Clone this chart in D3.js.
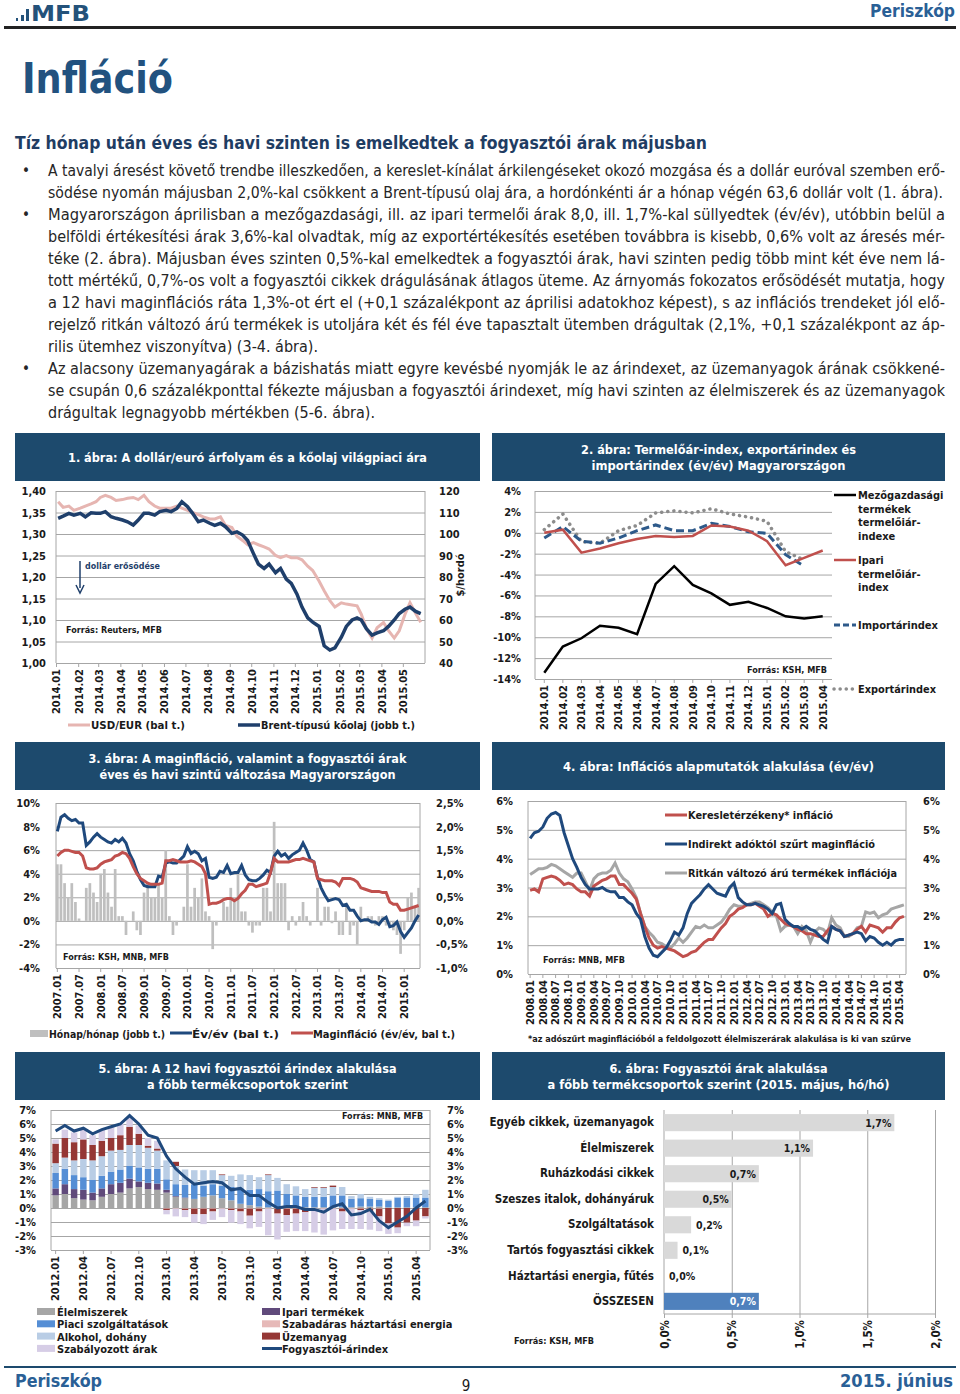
<!DOCTYPE html>
<html>
<head>
<meta charset="utf-8">
<script src="https://cdn.jsdelivr.net/npm/d3@7/dist/d3.min.js"></script>
<style>
  body { margin: 0; background: #fff; }
  svg text { font-family: "DejaVu Sans Condensed", "DejaVu Sans", sans-serif; font-stretch: condensed; }
</style>
</head>
<body>
<script>
(function () {
	"use strict";

	// ---- text ----
	var bodyParagraphs = [
		["A tavalyi áresést követő trendbe illeszkedően, a kereslet-kínálat árkilengéseket okozó mozgása és a dollár euróval szemben erő-",
		 "södése nyomán májusban 2,0%-kal csökkent a Brent-típusú olaj ára, a hordónkénti ár a hónap végén 63,6 dollár volt (1. ábra)."],
		["Magyarországon áprilisban a mezőgazdasági, ill. az ipari termelői árak 8,0, ill. 1,7%-kal süllyedtek (év/év), utóbbin belül a",
		 "belföldi értékesítési árak 3,6%-kal olvadtak, míg az exportértékesítés esetében továbbra is kisebb, 0,6% volt az áresés mér-",
		 "téke (2. ábra). Májusban éves szinten 0,5%-kal emelkedtek a fogyasztói árak, havi szinten pedig több mint két éve nem lá-",
		 "tott mértékű, 0,7%-os volt a fogyasztói cikkek drágulásának átlagos üteme. Az árnyomás fokozatos erősödését mutatja, hogy",
		 "a 12 havi maginflációs ráta 1,3%-ot ért el (+0,1 százalékpont az áprilisi adatokhoz képest), s az inflációs trendeket jól elő-",
		 "rejelző ritkán változó árú termékek is utoljára két és fél éve tapasztalt ütemben drágultak (2,1%, +0,1 százalékpont az áp-",
		 "rilis ütemhez viszonyítva) (3-4. ábra)."],
		["Az alacsony üzemanyagárak a bázishatás miatt egyre kevésbé nyomják le az árindexet, az üzemanyagok árának csökkené-",
		 "se csupán 0,6 százalékponttal fékezte májusban a fogyasztói árindexet, míg havi szinten az élelmiszerek és az üzemanyagok",
		 "drágultak legnagyobb mértékben (5-6. ábra)."]
	];

	// ---- 1. ábra: weekly values, 4 per month ----
	var c1Months = ["2014.01","2014.02","2014.03","2014.04","2014.05","2014.06","2014.07","2014.08","2014.09",
		"2014.10","2014.11","2014.12","2015.01","2015.02","2015.03","2015.04","2015.05"];
	var c1UsdEur = [1.375,1.362,1.365,1.355, 1.36,1.365,1.37,1.375, 1.385,1.39,1.385,1.378, 1.38,1.383,1.385,1.38,
		1.39,1.375,1.365,1.36, 1.36,1.36,1.365,1.36, 1.355,1.35,1.345,1.34, 1.335,1.335,1.34,1.32,
		1.315,1.295,1.285,1.275, 1.28,1.275,1.27,1.265, 1.25,1.245,1.25,1.245, 1.245,1.24,1.225,1.215,
		1.19,1.168,1.145,1.13, 1.14,1.137,1.135,1.133, 1.113,1.08,1.058,1.082, 1.094,1.075,1.058,1.075,
		1.113,1.14,1.115,1.095];
	var c1Brent = [107.3,108.3,109.6,108.8, 109.6,108,109.9,109.6, 109.6,110.4,108,107.3, 106.5,105.7,104.2,106.5,
		109.6,109.6,108.8,110.4, 111,110.4,111.9,115, 112.7,109.6,105.7,106.5, 105,104,105,103.4,
		100.3,101,99.5,97, 91,86,84,86, 82,84,79,77, 72,66,61,59,
		57,48,46,47, 52,57,60,61, 60,56,53,54, 55,57,60,63,
		65,66,64,63];
	var c1LeftTicks = [1.00,1.05,1.10,1.15,1.20,1.25,1.30,1.35,1.40];
	var c1RightTicks = [40,50,60,70,80,90,100,110,120];

	// ---- 2. ábra ----
	var c2Months = ["2014.01","2014.02","2014.03","2014.04","2014.05","2014.06","2014.07","2014.08",
		"2014.09","2014.10","2014.11","2014.12","2015.01","2015.02","2015.03","2015.04"];
	var c2Agri = [-13.4,-10.9,-10.1,-8.9,-9.1,-9.7,-4.9,-3.2,-5.0,-5.8,-6.9,-6.6,-7.2,-8.0,-8.2,-8.0];
	var c2Ind = [0.0,0.3,-1.9,-1.5,-1.0,-0.6,-0.3,-0.4,-0.3,0.7,0.6,0.2,-0.8,-3.1,-2.4,-1.7];
	var c2Imp = [-0.5,0.6,-0.8,-1.0,-0.5,0.2,0.75,0.2,0.2,0.9,0.6,0.1,-0.05,-2.1,-3.2,null];
	var c2Exp = [0.3,1.8,-0.85,-1.0,0.2,0.7,1.9,2.1,1.9,2.3,1.8,1.5,1.1,-1.8,-2.6,null];
	var c2Ticks = [-14,-12,-10,-8,-6,-4,-2,0,2,4];

	// ---- 3. ábra: 2007.01 - 2015.05 ----
	var c3YoY = [7.6,8.8,9.0,8.7,8.5,8.6,8.3,8.3,6.4,6.7,7.1,7.4,
		7.1,6.9,6.7,6.6,6.9,6.7,7.0,6.6,5.7,5.1,4.2,3.5,
		3.0,2.9,2.9,2.9,3.8,3.7,4.9,5.0,4.9,4.9,5.2,5.5,
		6.3,5.7,5.9,5.7,5.1,5.3,3.7,3.6,3.7,4.2,4.1,4.7,
		4.0,4.1,4.1,4.7,3.9,3.5,3.4,3.4,3.6,3.9,4.3,4.1,
		5.5,5.9,5.5,5.7,5.3,5.6,5.8,6.0,6.6,6.0,5.2,5.0,
		3.7,2.8,2.2,1.7,1.8,1.9,1.8,1.3,1.4,0.9,0.9,0.4,
		0.0,0.1,0.1,-0.1,-0.1,-0.3,0.1,0.3,-0.5,-0.4,-0.1,-0.9,
		-1.4,-1.0,-0.6,0.0,0.5];
	var c3Core = [5.5,5.8,6.0,6.0,5.9,5.8,5.8,5.5,4.5,4.4,4.4,4.5,
		4.8,5.0,5.1,5.2,5.5,5.6,5.8,5.7,5.3,4.6,4.0,3.6,
		3.4,3.2,3.1,3.1,3.1,3.2,5.1,5.1,5.2,5.1,5.0,5.0,
		5.0,5.1,5.0,4.8,4.6,4.0,1.4,1.5,1.5,1.6,1.8,1.9,
		1.9,1.7,1.9,2.3,2.6,3.1,3.1,2.9,3.0,3.1,3.2,4.1,
		5.3,5.0,5.0,5.0,5.0,5.1,5.2,5.2,5.3,5.2,5.1,5.0,
		3.6,3.5,3.4,3.4,3.4,3.3,3.0,3.6,3.6,3.6,3.5,3.3,
		2.8,2.7,2.6,2.5,2.5,2.5,2.4,2.4,1.6,1.4,1.4,0.9,
		0.9,1.0,1.1,1.2,1.3];
	var c3MoM = [1.2,1.2,0.8,0.5,0.8,0.4,0.05,0.0,0.7,0.8,0.6,0.4,
		1.0,1.1,0.6,0.3,1.1,0.1,0.1,-0.3,0.0,0.2,-0.2,-0.3,
		0.6,0.8,0.5,0.5,0.8,0.5,1.5,0.1,-0.3,-0.1,0.0,0.3,
		1.2,0.3,0.7,0.5,0.9,0.2,0.1,-0.6,-0.1,0.0,0.4,0.3,
		0.7,0.5,1.0,0.2,0.2,-0.1,-0.25,-0.1,-0.1,0.7,0.7,0.2,
		2.1,0.8,0.8,0.8,-0.2,0.1,-0.1,0.1,0.4,0.1,-0.1,0.0,
		0.7,-0.1,0.3,0.3,-0.05,0.2,-0.3,-0.3,0.35,-0.3,-0.1,-0.5,
		0.3,0.0,0.1,0.1,-0.1,0.1,0.1,-0.1,-0.1,-0.2,-0.3,-0.7,
		-0.2,0.5,0.6,0.3,0.7];
	var c3LeftTicks = [-4,-2,0,2,4,6,8,10];
	var c3RightTicks = [-1,-0.5,0,0.5,1,1.5,2,2.5];

	// ---- 4. ábra: 2008.01 - 2015.05 ----
	var c4Demand = [2.9,2.95,2.85,3.3,3.35,3.4,3.35,3.25,3.1,3.15,3.1,2.95,
		2.85,2.85,2.7,3.05,3.15,3.25,3.3,3.4,3.4,3.1,3.1,2.95,
		2.8,2.6,2.1,1.65,1.25,1.0,0.9,0.95,0.9,0.85,0.8,0.7,
		0.6,0.65,0.75,0.8,0.95,1.1,1.2,1.2,1.4,1.6,1.75,2.0,
		2.1,2.25,2.3,2.4,2.4,2.45,2.35,2.25,2.0,2.1,2.05,1.9,
		1.75,1.7,1.65,1.55,1.5,1.4,1.4,1.35,1.3,1.3,1.5,1.65,
		1.55,1.5,1.3,1.35,1.4,1.55,1.65,1.45,1.7,1.65,1.6,1.45,
		1.6,1.6,1.8,1.95,2.0];
	var c4CoreTax = [4.7,4.9,4.95,5.1,5.4,5.55,5.6,5.5,4.9,4.45,4.0,3.7,
		3.35,3.1,2.95,2.95,2.95,3.0,2.9,2.85,2.85,2.65,2.65,2.5,
		2.4,2.1,1.9,1.3,0.9,0.65,0.6,0.75,0.9,1.15,1.45,1.35,
		1.6,2.1,2.45,2.6,2.75,2.95,3.1,2.95,2.8,2.75,2.7,3.0,
		3.15,2.65,2.5,2.4,2.4,2.45,2.4,2.35,2.25,2.1,2.4,2.45,
		1.9,1.75,1.65,1.65,1.55,1.65,1.55,1.5,1.35,1.2,1.1,1.65,
		1.55,1.5,1.3,1.35,1.4,1.45,1.4,1.15,1.3,1.25,1.1,1.0,
		1.1,1.0,1.15,1.2,1.2];
	var c4Sticky = [3.45,3.55,3.65,3.65,3.7,3.8,3.75,3.65,3.55,3.45,3.35,3.5,
		3.5,3.2,2.9,3.3,3.45,3.5,3.5,3.6,3.85,3.5,3.3,3.2,
		2.95,2.65,2.1,1.65,1.45,1.3,1.1,1.05,0.95,0.9,1.05,1.25,
		1.1,1.25,1.45,1.65,1.6,1.7,1.6,1.6,1.7,1.8,2.0,2.25,
		2.4,2.35,2.35,2.4,2.45,2.5,2.5,2.4,2.3,2.15,2.0,1.5,
		1.65,1.7,1.65,1.4,1.65,1.5,1.1,1.45,1.6,1.55,1.4,1.95,
		1.7,1.6,1.3,1.3,1.4,1.6,1.65,2.15,2.1,2.15,1.95,2.05,
		2.1,2.25,2.3,2.35,2.4];
	var c4Ticks = [0,1,2,3,4,5,6];

	// ---- 5. ábra: 2012.01 - 2015.05, contributions ----
	var c5Food = [0.9,1.0,0.7,0.6,0.55,0.8,1.0,1.1,1.4,1.5,1.35,1.3,
		1.1,0.8,0.7,0.65,0.8,0.9,0.7,0.55,0.3,0.2,0.1,0.05,
		0.05,0.05,0.05,0.05,0.05,0.05,0.05,0.05,0.05,0.1,0.1,0.1,
		0.05,0.05,0.05,0.05,0.05];
	var c5Industrial = [0.5,0.7,0.65,0.7,0.55,0.6,0.7,0.7,0.7,0.4,0.45,0.45,
		0.2,0.05,0.05,0,0,0,0,0,0,0,0,0,
		0,0,0,0,0,0,0,0,0,0,0,0,
		0,0,0,0,0];
	var c5Services = [1.1,1.1,1.0,0.9,0.9,0.9,0.9,0.95,0.9,1.0,1.0,1.05,
		0.75,0.85,0.9,1.05,0.8,0.8,0.9,0.95,1.1,1.1,1.25,1.15,
		1.2,0.95,0.85,0.75,0.75,0.75,0.85,0.85,0.6,0.6,0.55,0.5,
		0.45,0.7,0.7,0.7,0.7];
	var c5Energy = [0,0,0,0,0,0,0,0,0,0,0,0,
		-0.05,-0.05,-0.05,-0.05,-0.05,-0.05,-0.05,-0.05,-0.05,-0.05,-0.05,-0.05,
		-0.05,-0.05,-0.05,-0.05,-0.05,-0.05,-0.05,-0.05,-0.05,-0.05,-0.05,-0.05,
		0,0,0,0,0];
	var c5Alcohol = [0.7,0.8,1.05,1.3,1.4,1.4,1.5,1.4,1.5,1.6,1.5,1.3,
		1.35,1.3,1.1,1.0,1.1,1.0,0.75,0.8,1.0,1.05,0.85,1.15,
		0.9,0.7,0.65,0.55,0.65,0.65,0.6,0.6,0.2,0.3,0.15,0.1,
		0.1,0.05,0.1,0.25,0.55];
	var c5Fuel = [1.4,1.4,1.3,1.4,1.1,1.1,0.9,1.05,1.3,0.8,0.15,0.15,
		-0.1,0.3,-0.1,-0.4,-0.4,-0.2,0.05,-0.1,-0.2,-0.5,-0.2,0.05,
		-0.35,-0.45,-0.35,-0.25,0.05,0.05,0.1,-0.2,0,-0.1,-0.2,-0.55,
		-1.1,-1.4,-1.05,-0.9,-0.6];
	var c5Regulated = [0.3,0.6,0.7,0.7,0.7,0.8,0.8,0.8,0.7,0.6,0.55,0.55,
		-0.3,-0.55,-0.5,-0.6,-0.7,-0.6,-0.6,-0.9,-0.9,-0.9,-1.1,-1.9,
		-1.85,-1.2,-1.25,-1.35,-1.7,-1.85,-1.55,-1.25,-1.45,-1.35,-1.3,-1.05,
		-0.75,-0.4,-0.25,-0.4,-0.15];
	var c5Cpi = [5.5,5.9,5.5,5.7,5.3,5.6,5.8,6.0,6.6,6.0,5.2,5.0,
		3.7,2.8,2.2,1.7,1.8,1.9,1.8,1.3,1.4,0.9,0.9,0.4,
		0.0,0.1,0.1,-0.1,-0.1,-0.3,0.1,0.3,-0.5,-0.4,-0.1,-0.9,
		-1.4,-1.0,-0.6,0.0,0.5];
	var c5Ticks = [-3,-2,-1,0,1,2,3,4,5,6,7];

	// ---- 6. ábra ----
	var c6Categories = ["Egyéb cikkek, üzemanyagok","Élelmiszerek","Ruházkodási cikkek","Szeszes italok, dohányáruk",
		"Szolgáltatások","Tartós fogyasztási cikkek","Háztartási energia, fűtés","ÖSSZESEN"];
	var c6Values = [1.7,1.1,0.7,0.5,0.2,0.1,0.0,0.7];
	var c6Ticks = [0,0.5,1,1.5,2];

	// ---------------------------------------------------------------
	var NAVY = '#1d4a6d', TITLE = '#22527f', GRID = '#a6a6a6', INK = '#1a1a1a';
	var RED = '#c0504d', DBLUE = '#1f497d';
	var hu = d3.formatLocale({decimal: ",", thousands: " ", grouping: [3], currency: ["", ""], minus: "-"});
	var f2 = hu.format(".2f"), f1 = hu.format(".1f");
	var pct = function (d) { return hu.format("d")(d) + '%'; };
	var pct1 = function (d) { return f1(d) + '%'; };

	var svg = d3.select('body').append('svg').attr('width', 960).attr('height', 1394);

	function label(g, x, y, s, o) {
		o = o || {};
		var t = g.append('text').attr('x', x).attr('y', y).text(s)
			.attr('font-size', o.size || 11)
			.attr('font-weight', o.weight || 'bold')
			.attr('fill', o.fill || INK)
			.attr('text-anchor', o.anchor || 'start');
		if (o.width) t.attr('textLength', o.width).attr('lengthAdjust', 'spacingAndGlyphs');
		if (o.rotate) t.attr('transform', 'rotate(' + o.rotate + ',' + x + ',' + y + ')');
		return t;
	}

	function header(x, w, y, lines, widths) {
		svg.append('rect').attr('x', x).attr('y', y).attr('width', w).attr('height', 48).attr('fill', NAVY);
		var base = lines.length === 1 ? y + 29 : y + 21;
		lines.forEach(function (l, i) {
			label(svg, x + w / 2, base + i * 16, l, {anchor: 'middle', fill: '#fff', size: 12.5, width: widths[i]});
		});
	}

	function styleAxis(a, size) {
		a.attr('font-size', size || 11).attr('font-weight', 'bold').attr('font-family', null);
		a.select('.domain').remove();
		a.selectAll('.tick line').attr('stroke', GRID);
		a.selectAll('text').attr('fill', INK);
		return a;
	}

	function grid(g, y, ticks, x0, x1) {
		var a = g.append('g').attr('transform', 'translate(' + x0 + ',0)')
			.call(d3.axisLeft(y).tickValues(ticks).tickSize(-(x1 - x0)).tickFormat(''));
		a.select('.domain').remove();
		a.selectAll('.tick line').attr('stroke', GRID).attr('stroke-width', 1);
	}

	function valueAxis(g, y, ticks, fmt, x, right, pad) {
		var ax = right ? d3.axisRight(y) : d3.axisLeft(y);
		var a = g.append('g').attr('transform', 'translate(' + x + ',0)')
			.call(ax.tickValues(ticks).tickFormat(fmt).tickSize(0).tickPadding(pad || 6));
		return styleAxis(a);
	}

	function rotAxis(g, scale, vals, fmt, y, size) {
		var a = g.append('g').attr('transform', 'translate(0,' + y + ')')
			.call(d3.axisBottom(scale).tickValues(vals).tickFormat(fmt).tickSize(4));
		styleAxis(a, size);
		a.selectAll('text').attr('transform', 'rotate(-90)').attr('text-anchor', 'end')
			.attr('x', -6).attr('y', 0).attr('dy', '0.35em');
		return a;
	}

	function vline(g, x, y0, y1) {
		g.append('line').attr('x1', x).attr('x2', x).attr('y1', y0).attr('y2', y1).attr('stroke', GRID);
	}
	function hline(g, y, x0, x1) {
		g.append('line').attr('x1', x0).attr('x2', x1).attr('y1', y).attr('y2', y).attr('stroke', GRID);
	}

	function legendLine(g, x, y, color, w, dash, cap) {
		g.append('line').attr('x1', x).attr('x2', x + 22).attr('y1', y).attr('y2', y)
			.attr('stroke', color).attr('stroke-width', w)
			.attr('stroke-dasharray', dash || null).attr('stroke-linecap', cap || 'butt');
	}

	function monthList(y0, m0, n) {
		return d3.range(n).map(function (i) {
			var m = m0 - 1 + i;
			return (y0 + Math.floor(m / 12)) + '.' + d3.format('02d')(m % 12 + 1);
		});
	}

	// ---- page header ----
	[[16, 18, 2, 3], [21, 15, 3, 6], [26, 9, 3, 12]].forEach(function (b) {
		svg.append('rect').attr('x', b[0]).attr('y', b[1]).attr('width', b[2]).attr('height', b[3]).attr('fill', '#24527a');
	});
	label(svg, 31, 21, 'MFB', {size: 22, fill: '#24527a', width: 59});
	label(svg, 955, 17, 'Periszkóp', {size: 17, fill: '#2a6096', anchor: 'end', width: 85});
	svg.append('rect').attr('x', 4).attr('y', 26).attr('width', 952).attr('height', 3).attr('fill', '#222');

	label(svg, 22, 93, 'Infláció', {size: 42, fill: TITLE, width: 151});
	label(svg, 15, 149, 'Tíz hónap után éves és havi szinten is emelkedtek a fogyasztói árak májusban',
		{size: 17, fill: '#1f3d63', width: 692});

	var lineNo = 0;
	var lastWidths = [895, 270, 327];
	bodyParagraphs.forEach(function (para, p) {
		label(svg, 22, 176 + lineNo * 22, '•', {size: 15, weight: 'normal', fill: '#262626'});
		para.forEach(function (ln, i) {
			var w = i === para.length - 1 ? lastWidths[p] : 897;
			label(svg, 48, 176 + lineNo * 22, ln, {size: 15, weight: 'normal', fill: '#262626', width: w});
			lineNo++;
		});
	});

	// ---- 1. ábra ----
	(function () {
		header(15, 465, 433, ['1. ábra: A dollár/euró árfolyam és a kőolaj világpiaci ára'], [359]);
		var g = svg.append('g');
		var parse = d3.timeParse('%Y.%m');
		var x = d3.scaleTime().domain([parse('2014.01'), parse('2015.06')]).range([56, 425]);
		var yl = d3.scaleLinear().domain([1, 1.4]).range([663, 491]);
		var yr = d3.scaleLinear().domain([40, 120]).range([663, 491]);
		grid(g, yl, c1LeftTicks, 56, 425);
		vline(g, 56, 491, 663); vline(g, 425, 491, 663);
		valueAxis(g, yl, c1LeftTicks, f2, 48, false, 2);
		valueAxis(g, yr, c1RightTicks, hu.format('d'), 433, true, 0);
		rotAxis(g, x, c1Months.map(parse), d3.timeFormat('%Y.%m'), 663);
		label(g, 464, 575, '$/hordó', {anchor: 'middle', rotate: -90, size: 11});

		function day(i) { return new Date(2014, Math.floor(i / 4), 4 + (i % 4) * 7.5); }
		g.append('path').datum(c1UsdEur).attr('fill', 'none').attr('stroke', '#e6b5b1').attr('stroke-width', 3)
			.attr('d', d3.line().x(function (d, i) { return x(day(i)); }).y(function (d) { return yl(d); }));
		g.append('path').datum(c1Brent).attr('fill', 'none').attr('stroke', '#1f3f6b').attr('stroke-width', 3.5)
			.attr('d', d3.line().x(function (d, i) { return x(day(i)); }).y(function (d) { return yr(d); }));

		g.append('line').attr('x1', 80).attr('x2', 80).attr('y1', 561).attr('y2', 588)
			.attr('stroke', '#1f3f6b').attr('stroke-width', 1.5);
		g.append('path').attr('d', 'M76,585 L80,593 L84,585').attr('fill', 'none').attr('stroke', '#1f3f6b').attr('stroke-width', 1.5);
		label(g, 85, 569, 'dollár erősödése', {size: 9.5, fill: '#1f3f6b', width: 75});
		label(g, 66, 633, 'Forrás: Reuters, MFB', {size: 9.5, width: 96});

		legendLine(g, 68, 725, '#e6b5b1', 3);
		label(g, 91, 729, 'USD/EUR (bal  t.)', {size: 11, width: 94});
		legendLine(g, 238, 725, '#1f3f6b', 3.5);
		label(g, 261, 729, 'Brent-típusú kőolaj (jobb t.)', {size: 11, width: 154});
	})();

	// ---- 2. ábra ----
	(function () {
		header(492, 453, 433, ['2. ábra: Termelőár-index, exportárindex és', 'importárindex (év/év) Magyarországon'], [275, 254]);
		var g = svg.append('g');
		var x = d3.scaleBand().domain(c2Months).range([535, 832]);
		var y = d3.scaleLinear().domain([-14, 4]).range([679, 491]);
		grid(g, y, c2Ticks, 535, 832);
		vline(g, 535, 491, 679);
		valueAxis(g, y, c2Ticks, pct, 527, false, 0);
		rotAxis(g, x, c2Months, null, 679);
		function cx(d, i) { return x(c2Months[i]) + x.bandwidth() / 2; }
		var line = d3.line().defined(function (d) { return d !== null; }).x(cx).y(function (d) { return y(d); });
		g.append('path').datum(c2Exp).attr('fill', 'none').attr('stroke', '#8c8c8c').attr('stroke-width', 3.5)
			.attr('stroke-linecap', 'round').attr('stroke-dasharray', '0.1,6').attr('d', line);
		g.append('path').datum(c2Imp).attr('fill', 'none').attr('stroke', '#2e5a8a').attr('stroke-width', 3)
			.attr('stroke-dasharray', '8,4').attr('d', line);
		g.append('path').datum(c2Ind).attr('fill', 'none').attr('stroke', RED).attr('stroke-width', 2.5).attr('d', line);
		g.append('path').datum(c2Agri).attr('fill', 'none').attr('stroke', '#000').attr('stroke-width', 2.5).attr('d', line);
		label(g, 827, 673, 'Forrás: KSH, MFB', {size: 9.5, anchor: 'end', width: 80});

		legendLine(g, 834, 495, '#000', 2.5);
		['Mezőgazdasági', 'termékek', 'termelőiár-', 'indexe'].forEach(function (s, i) {
			label(g, 858, 499 + i * 13.5, s, {size: 11});
		});
		legendLine(g, 834, 560, RED, 2.5);
		['Ipari', 'termelőiár-', 'index'].forEach(function (s, i) {
			label(g, 858, 564 + i * 13.5, s, {size: 11});
		});
		legendLine(g, 834, 625, '#2e5a8a', 3, '6,3');
		label(g, 858, 629, 'Importárindex', {size: 11, width: 80});
		legendLine(g, 834, 689, '#8c8c8c', 3.5, '0.1,6', 'round');
		label(g, 858, 693, 'Exportárindex', {size: 11, width: 78});
	})();

	// ---- 3. ábra ----
	(function () {
		header(15, 465, 742, ['3. ábra: A maginfláció, valamint a fogyasztói árak', 'éves és havi szintű változása Magyarországon'], [318, 296]);
		var g = svg.append('g');
		var months = monthList(2007, 1, c3YoY.length);
		var x = d3.scaleBand().domain(months).range([56, 420]).paddingInner(0.25);
		var yl = d3.scaleLinear().domain([-4, 10]).range([968, 803]);
		var yr = d3.scaleLinear().domain([-1, 2.5]).range([968, 803]);
		grid(g, yl, c3LeftTicks, 56, 420);
		vline(g, 56, 803, 968); vline(g, 420, 803, 968);
		valueAxis(g, yl, c3LeftTicks, pct, 46, false, 0);
		valueAxis(g, yr, c3RightTicks, pct1, 430, true, 0);
		rotAxis(g, x, months.filter(function (d, i) { return i % 6 === 0; }), null, 968);

		g.selectAll('rect.mom').data(c3MoM).enter().append('rect')
			.attr('x', function (d, i) { return x(months[i]); })
			.attr('width', x.bandwidth())
			.attr('y', function (d) { return yr(Math.max(0, d)); })
			.attr('height', function (d) { return Math.abs(yr(d) - yr(0)); })
			.attr('fill', '#bfbfbf');
		var line = d3.line().x(function (d, i) { return x(months[i]) + x.bandwidth() / 2; }).y(function (d) { return yl(d); });
		g.append('path').datum(c3YoY).attr('fill', 'none').attr('stroke', DBLUE).attr('stroke-width', 3).attr('d', line);
		g.append('path').datum(c3Core).attr('fill', 'none').attr('stroke', RED).attr('stroke-width', 3).attr('d', line);
		label(g, 63, 960, 'Forrás: KSH, MNB, MFB', {size: 9.5, width: 106});

		g.append('rect').attr('x', 30).attr('y', 1030).attr('width', 18).attr('height', 7).attr('fill', '#bfbfbf');
		label(g, 49, 1038, 'Hónap/hónap (jobb t.)', {size: 11, width: 116});
		legendLine(g, 170, 1033, DBLUE, 3);
		label(g, 192, 1038, 'Év/év (bal t.)', {size: 11, width: 87});
		legendLine(g, 291, 1033, RED, 3);
		label(g, 313, 1038, 'Maginfláció (év/év, bal t.)', {size: 11, width: 142});
	})();

	// ---- 4. ábra ----
	(function () {
		header(492, 453, 742, ['4. ábra: Inflációs alapmutatók alakulása (év/év)'], [311]);
		var g = svg.append('g');
		var months = monthList(2008, 1, c4Demand.length);
		var x = d3.scaleBand().domain(months).range([528, 906]);
		var y = d3.scaleLinear().domain([0, 6]).range([974, 801]);
		grid(g, y, c4Ticks, 528, 906);
		vline(g, 528, 801, 974); vline(g, 906, 801, 974);
		valueAxis(g, y, c4Ticks, pct, 519, false, 0);
		valueAxis(g, y, c4Ticks, pct, 917, true, 0);
		rotAxis(g, x, months.filter(function (d, i) { return i % 3 === 0; }), null, 974);
		var line = d3.line().x(function (d, i) { return x(months[i]) + x.bandwidth() / 2; }).y(function (d) { return y(d); });
		g.append('path').datum(c4Sticky).attr('fill', 'none').attr('stroke', '#a6a6a6').attr('stroke-width', 3).attr('d', line);
		g.append('path').datum(c4Demand).attr('fill', 'none').attr('stroke', RED).attr('stroke-width', 3).attr('d', line);
		g.append('path').datum(c4CoreTax).attr('fill', 'none').attr('stroke', DBLUE).attr('stroke-width', 3).attr('d', line);
		label(g, 543, 963, 'Forrás: MNB, MFB', {size: 9.5, width: 82});

		legendLine(g, 665, 815, RED, 3);
		label(g, 688, 819, 'Keresletérzékeny* infláció', {size: 11, width: 145});
		legendLine(g, 665, 844, DBLUE, 3);
		label(g, 688, 848, 'Indirekt adóktól szűrt maginfláció', {size: 11, width: 187});
		legendLine(g, 665, 873, '#a6a6a6', 3);
		label(g, 688, 877, 'Ritkán változó árú termékek inflációja', {size: 11, width: 209});
		label(g, 528, 1042, '*az adószűrt maginflációból a feldolgozott élelmiszerárak alakulása is ki van szűrve', {size: 9.5, width: 383});
	})();

	// ---- 5. ábra ----
	(function () {
		header(15, 465, 1052, ['5. ábra: A 12 havi fogyasztói árindex alakulása', 'a főbb termékcsoportok szerint'], [298, 201]);
		var g = svg.append('g');
		var months = monthList(2012, 1, c5Cpi.length);
		var series = [
			{key: 'food', name: 'Élelmiszerek', values: c5Food, color: '#a6a6a6'},
			{key: 'industrial', name: 'Ipari termékek', values: c5Industrial, color: '#604a7b'},
			{key: 'services', name: 'Piaci szolgáltatások', values: c5Services, color: '#558ed5'},
			{key: 'energy', name: 'Szabadáras háztartási energia', values: c5Energy, color: '#e6b9b8'},
			{key: 'alcohol', name: 'Alkohol, dohány', values: c5Alcohol, color: '#b9cde5'},
			{key: 'fuel', name: 'Üzemanyag', values: c5Fuel, color: '#953735'},
			{key: 'regulated', name: 'Szabályozott árak', values: c5Regulated, color: '#d6cde6'}
		];
		var rows = months.map(function (m, i) {
			var r = {month: m};
			series.forEach(function (s) { r[s.key] = s.values[i]; });
			return r;
		});
		var stack = d3.stack().keys(series.map(function (s) { return s.key; })).offset(d3.stackOffsetDiverging)(rows);
		var x = d3.scaleBand().domain(months).range([51, 430]).paddingInner(0.3).paddingOuter(0.15);
		var y = d3.scaleLinear().domain([-3, 7]).range([1250, 1110]);
		grid(g, y, c5Ticks, 51, 430);
		vline(g, 51, 1110, 1250); vline(g, 430, 1110, 1250);
		valueAxis(g, y, c5Ticks, pct, 42, false, 0);
		valueAxis(g, y, c5Ticks, pct, 441, true, 0);
		rotAxis(g, x, months.filter(function (d, i) { return i % 3 === 0; }), null, 1250);

		g.selectAll('g.layer').data(stack).enter().append('g')
			.attr('fill', function (d, i) { return series[i].color; })
			.selectAll('rect').data(function (d) { return d; }).enter().append('rect')
			.attr('x', function (d) { return x(d.data.month); })
			.attr('width', x.bandwidth())
			.attr('y', function (d) { return y(Math.max(d[0], d[1])); })
			.attr('height', function (d) { return Math.abs(y(d[0]) - y(d[1])); });
		g.append('path').datum(c5Cpi).attr('fill', 'none').attr('stroke', DBLUE).attr('stroke-width', 3)
			.attr('d', d3.line().x(function (d, i) { return x(months[i]) + x.bandwidth() / 2; }).y(function (d) { return y(d); }));
		label(g, 423, 1119, 'Forrás: MNB, MFB', {size: 9.5, anchor: 'end', width: 81});

		var legendLeft = [series[0], series[2], series[4], series[6]];
		var legendRight = [series[1], series[3], series[5]];
		legendLeft.forEach(function (s, i) {
			g.append('rect').attr('x', 37).attr('y', 1308 + i * 12.3).attr('width', 18).attr('height', 7).attr('fill', s.color);
			label(g, 57, 1316 + i * 12.3, s.name, {size: 11});
		});
		legendRight.forEach(function (s, i) {
			g.append('rect').attr('x', 262).attr('y', 1308 + i * 12.3).attr('width', 18).attr('height', 7).attr('fill', s.color);
			label(g, 282, 1316 + i * 12.3, s.name, {size: 11});
		});
		g.append('line').attr('x1', 262).attr('x2', 282).attr('y1', 1348.5).attr('y2', 1348.5).attr('stroke', DBLUE).attr('stroke-width', 3);
		label(g, 282, 1353, 'Fogyasztói-árindex', {size: 11});
	})();

	// ---- 6. ábra ----
	(function () {
		header(492, 453, 1052, ['6. ábra: Fogyasztói árak alakulása', 'a főbb termékcsoportok szerint (2015. május, hó/hó)'], [218, 342]);
		var g = svg.append('g');
		var y = d3.scaleBand().domain(c6Categories).range([1110, 1314]).paddingInner(0.33).paddingOuter(0.16);
		var x = d3.scaleLinear().domain([0, 2]).range([664, 935]);
		var gx = g.append('g').attr('transform', 'translate(0,1110)')
			.call(d3.axisBottom(x).tickValues(c6Ticks.slice(1)).tickSize(204).tickFormat(''));
		gx.select('.domain').remove();
		gx.selectAll('.tick line').attr('stroke', GRID);
		vline(g, 664, 1110, 1314);
		hline(g, 1314, 664, 935);
		rotAxis(g, x, c6Ticks, pct1, 1314, 11.5);
		var ya = g.append('g').attr('transform', 'translate(664,0)')
			.call(d3.axisLeft(y).tickSize(0).tickPadding(10));
		styleAxis(ya, 11.5);

		g.selectAll('rect.bar').data(c6Values).enter().append('rect')
			.attr('x', x(0))
			.attr('y', function (d, i) { return y(c6Categories[i]); })
			.attr('height', y.bandwidth())
			.attr('width', function (d) { return x(d) - x(0); })
			.attr('fill', function (d, i) { return i === c6Values.length - 1 ? '#4f81bd' : '#d9d9d9'; });
		g.selectAll('text.val').data(c6Values).enter().append('text')
			.attr('x', function (d) { return d >= 0.5 ? x(d) - 3 : x(d) + 5; })
			.attr('y', function (d, i) { return y(c6Categories[i]) + y.bandwidth() / 2 + 4; })
			.attr('text-anchor', function (d) { return d >= 0.5 ? 'end' : 'start'; })
			.attr('font-size', 10.5).attr('font-weight', 'bold')
			.attr('fill', function (d, i) { return i === c6Values.length - 1 ? '#fff' : INK; })
			.text(pct1);
		label(g, 514, 1344, 'Forrás: KSH, MFB', {size: 9.5, width: 80});
	})();

	// ---- footer ----
	svg.append('rect').attr('x', 4).attr('y', 1366).attr('width', 952).attr('height', 2).attr('fill', NAVY);
	label(svg, 15, 1387, 'Periszkóp', {size: 17, fill: '#2a6096', width: 87});
	label(svg, 466, 1391, '9', {size: 15, weight: 'normal', anchor: 'middle'});
	label(svg, 953, 1387, '2015. június', {size: 17, fill: '#2a6096', anchor: 'end', width: 113});
}());
</script>
</body>
</html>
